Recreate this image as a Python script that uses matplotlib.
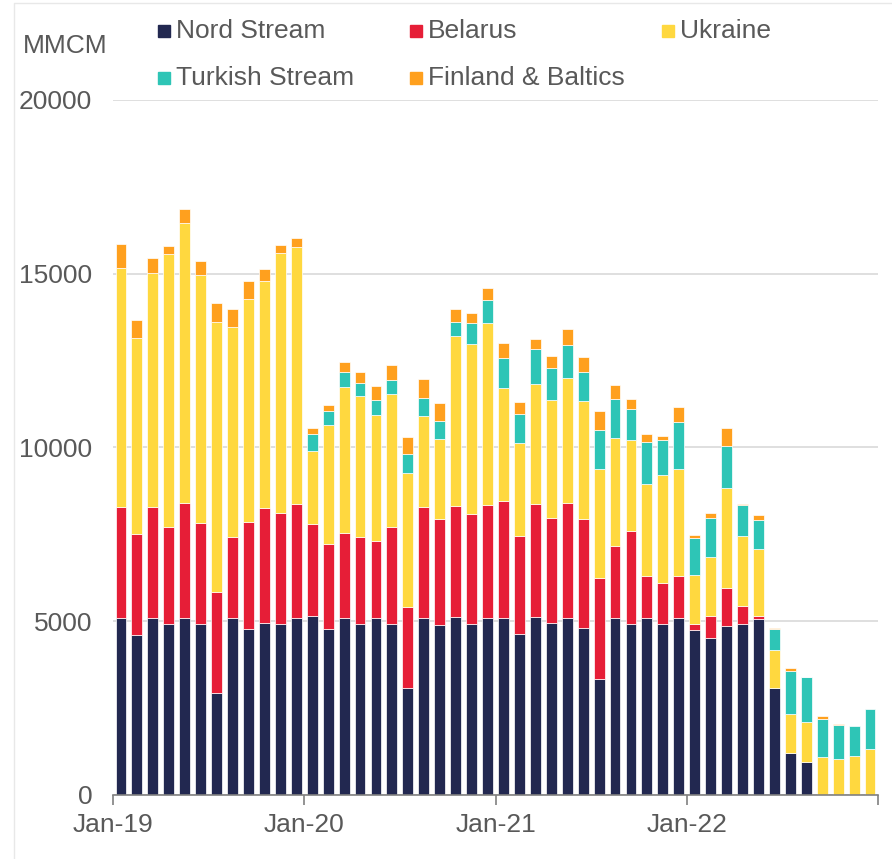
import numpy as np
import matplotlib
matplotlib.use('Agg')
import matplotlib.pyplot as plt
from matplotlib.patches import Rectangle
from matplotlib.lines import Line2D

plt.rcParams['font.family'] = ['Liberation Sans', 'DejaVu Sans']

# monthly flows Jan-19 .. Dec-22, MMCM
nord_stream = [5100, 4600, 5090, 4930, 5100, 4930, 2940, 5100, 4770, 4940, 4910, 5080,
               5150, 4775, 5080, 4930, 5100, 4930, 3080, 5100, 4880, 5120, 4930, 5080,
               5100, 4620, 5110, 4940, 5100, 4815, 3325, 5080, 4930, 5100, 4930, 5100,
               4760, 4520, 4875, 4920, 5075, 3080, 1210, 950, 0, 0, 0, 0]
belarus = [3200, 2910, 3210, 2770, 3300, 2890, 2910, 2330, 3100, 3320, 3210, 3300,
           2640, 2450, 2470, 2500, 2210, 2770, 2340, 3190, 3050, 3200, 3170, 3260,
           3360, 2830, 3260, 3030, 3300, 3115, 2920, 2085, 2660, 1190, 1180, 1210,
           165, 645, 1085, 520, 90, 0, 0, 0, 0, 0, 0, 0]
ukraine = [6860, 5650, 6710, 7870, 8060, 7140, 7760, 6030, 6410, 6530, 7470, 7380,
           2100, 3425, 4190, 4040, 3620, 3850, 3860, 2620, 2320, 4880, 4870, 5230,
           3240, 2670, 3445, 3395, 3590, 3415, 3125, 3120, 2640, 2650, 3100, 3080,
           1405, 1680, 2885, 2020, 1915, 1085, 1125, 1145, 1085, 1040, 1125, 1310]
turkish = [0, 0, 0, 0, 0, 0, 0, 0, 0, 0, 0, 0,
           500, 405, 430, 380, 430, 380, 520, 520, 520, 420, 615, 675,
           875, 830, 1030, 935, 955, 825, 1140, 1110, 885, 1210, 1020, 1340,
           1060, 1115, 1200, 895, 845, 605, 1240, 1300, 1115, 980, 865, 1160]
finland = [700, 520, 445, 240, 400, 410, 560, 520, 510, 360, 240, 280,
           175, 180, 300, 330, 400, 450, 500, 535, 515, 360, 280, 340,
           435, 350, 280, 320, 465, 445, 535, 390, 280, 250, 110, 430,
           85, 165, 530, 30, 135, 50, 85, 15, 85, 30, 0, 0]

series = [('Nord Stream', nord_stream, '#222850'),
          ('Belarus', belarus, '#E61E37'),
          ('Ukraine', ukraine, '#FFD83F'),
          ('Turkish Stream', turkish, '#2EC5B6'),
          ('Finland & Baltics', finland, '#FFA01E')]

tick_labels = ['Jan-19', 'Jan-20', 'Jan-21', 'Jan-22']
grey = '#595959'

fig = plt.figure(figsize=(8.92, 8.59), dpi=100)
ax = fig.add_axes([113/892, 1-795/859, (878-113)/892, (795-100)/859])

x = np.arange(len(nord_stream))
bottom = np.zeros(len(x))
for name, vals, col in series:
    vals = np.array(vals, dtype=float)
    nz = vals > 0  # skip empty segments so their edges don't show
    ax.bar(x[nz], vals[nz], 0.68, bottom=bottom[nz], color=col,
           edgecolor='white', linewidth=0.5, zorder=3)
    bottom += vals

ax.set_xlim(-0.5, len(x) - 0.5)
ax.set_ylim(0, 20000)
ax.set_yticks([0, 5000, 10000, 15000, 20000])
ax.set_yticklabels(['0', '5000', '10000', '15000', '20000'])
ax.yaxis.grid(True, color='#D9D9D9', linewidth=1.2, zorder=0)
ax.tick_params(axis='y', length=0, pad=15, labelsize=19, labelcolor=grey)

ax.set_xticks([-0.5, 11.5, 23.5, 35.5, 47.5])
ax.set_xticklabels(tick_labels + [''])
ax.tick_params(axis='x', length=7, width=1.2, color='#808080', pad=6, labelsize=19, labelcolor=grey)

for s in ['top', 'right', 'left']:
    ax.spines[s].set_visible(False)
ax.spines['bottom'].set_color('#808080')
ax.spines['bottom'].set_linewidth(1.2)
ax.spines['bottom'].set_zorder(4)

# unit label
fig.text(23/892, 1-46/859, 'MMCM', fontsize=19, color=grey, va='center', ha='left')

# legend, row-wise as in the original
leg_pos = [(158, 37), (410, 37), (662, 37), (158, 84), (410, 84)]
for (name, vals, col), (lx, ly) in zip(series, leg_pos):
    fig.patches.append(Rectangle((lx/892, 1-ly/859), 12/892, 12/859,
                                 transform=fig.transFigure, color=col, figure=fig))
    fig.text((lx+18)/892, 1-(ly+1)/859, name, fontsize=19, color=grey, va='baseline', ha='left')

# faint frame
fig.lines.append(Line2D([14/892, 14/892, 1], [0, 1-3/859, 1-3/859],
                        transform=fig.transFigure, color='#E8E8E8', linewidth=1))

fig.savefig('out.png', dpi=100)
